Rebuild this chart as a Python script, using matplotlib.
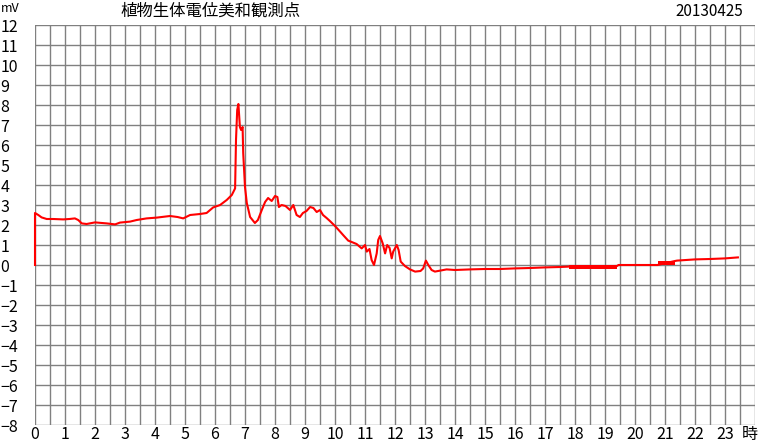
import numpy as np
import matplotlib
matplotlib.use("Agg")
import matplotlib.pyplot as plt
from matplotlib.ticker import MultipleLocator

plt.rcParams['font.family'] = ['Noto Sans CJK JP', 'DejaVu Sans']

# hours / mV
t = [0.0, 0.0, 0.11, 0.22, 0.39, 0.61, 0.94, 1.15, 1.33, 1.44, 1.56, 1.72, 2.0, 2.39,
     2.67, 2.83, 3.17, 3.39, 3.72, 4.06, 4.5, 4.75, 4.94, 5.17, 5.5, 5.72, 5.94, 6.17,
     6.39, 6.56, 6.67, 6.7, 6.74, 6.78, 6.83, 6.87, 6.92, 6.94, 7.0, 7.06, 7.17, 7.33,
     7.43, 7.56, 7.67, 7.77, 7.89, 8.0, 8.08, 8.13, 8.22, 8.35, 8.5, 8.61, 8.72, 8.83,
     8.93, 9.05, 9.17, 9.28, 9.39, 9.5, 9.6, 9.72, 9.83, 10.0, 10.17, 10.27, 10.44,
     10.72, 10.89, 11.0, 11.06, 11.15, 11.22, 11.3, 11.39, 11.44, 11.5, 11.59, 11.67,
     11.74, 11.82, 11.89, 11.94, 12.06, 12.12, 12.19, 12.33, 12.5, 12.67, 12.85, 12.94,
     13.03, 13.11, 13.22, 13.33, 13.72, 14.0, 14.5, 15.0, 15.5, 16.0, 16.5, 17.0, 17.5,
     17.8, 19.4, 19.45, 20.75, 21.33, 21.4, 22.0, 22.5, 23.0, 23.43]
mv = [0.0, 2.6, 2.5, 2.38, 2.3, 2.3, 2.28, 2.3, 2.33, 2.25, 2.08, 2.05, 2.13, 2.08,
      2.03, 2.12, 2.17, 2.25, 2.33, 2.37, 2.45, 2.4, 2.33, 2.5, 2.55, 2.6, 2.88, 3.0,
      3.25, 3.5, 3.83, 6.25, 7.75, 8.05, 6.9, 6.75, 6.9, 5.6, 3.9, 3.1, 2.4, 2.1,
      2.25, 2.75, 3.15, 3.35, 3.2, 3.45, 3.4, 2.9, 3.0, 2.95, 2.75, 3.0, 2.5, 2.4,
      2.6, 2.7, 2.9, 2.85, 2.65, 2.75, 2.5, 2.35, 2.2, 1.95, 1.67, 1.5, 1.22,
      1.05, 0.83, 1.0, 0.67, 0.8, 0.25, 0.0, 0.58, 1.25, 1.45, 1.08, 0.58,
      1.0, 0.85, 0.33, 0.67, 1.0, 0.75, 0.17, -0.05, -0.22, -0.33, -0.3, -0.17,
      0.22, 0.0, -0.25, -0.33, -0.22, -0.25, -0.22, -0.2, -0.2, -0.17, -0.15, -0.12, -0.1,
      -0.08, -0.05, 0.0, 0.0, 0.2, 0.22, 0.28, 0.3, 0.33, 0.38]

# noisy stretches drawn as bands (start, end, low, high)
bands = [(17.8, 19.4, -0.18, 0.02), (20.77, 21.33, 0.0, 0.2)]

fig = plt.figure(figsize=[7.59, 4.45], dpi=100)
ax = fig.add_axes([35/759, 20/445, 720/759, 400/445])
ax.set_xlim(0, 24)
ax.set_ylim(-8, 12)
for s in ax.spines.values():
    s.set_visible(False)

ax.xaxis.set_major_locator(MultipleLocator(1))
ax.xaxis.set_minor_locator(MultipleLocator(0.5))
ax.yaxis.set_major_locator(MultipleLocator(1))
ax.grid(which='both', axis='x', color='#808080', lw=1)
ax.grid(which='major', axis='y', color='#808080', lw=1)
ax.set_axisbelow(True)

ax.plot(t, mv, c='#ff0000', lw=1.5, clip_on=False, zorder=3)
for a, b, lo, hi in bands:
    ax.fill_between([a, b], [lo, lo], [hi, hi], color='#ff0000', lw=0, zorder=3)

ax.tick_params(which='both', length=0, labelsize=11.5)
ax.tick_params(axis='x', pad=1)
ax.set_xticks(range(0, 24))
ax.set_yticks(range(-8, 13))
ax.tick_params(axis='y', pad=25)
for lab in ax.get_yticklabels():
    lab.set_horizontalalignment('left')

fig.text(1/759, 1 - 8/445, "mV", fontsize=9, va='center', ha='left')
fig.text(120/759, 1 - 11/445, "植物生体電位美和観測点", fontsize=11.8, va='center', ha='left')
fig.text(743/759, 1 - 11/445, "20130425", fontsize=11, va='center', ha='right')
fig.text(750/759, 1 - 435/445, "時", fontsize=11.5, va='center', ha='center')

fig.savefig("out.png", dpi=100)
